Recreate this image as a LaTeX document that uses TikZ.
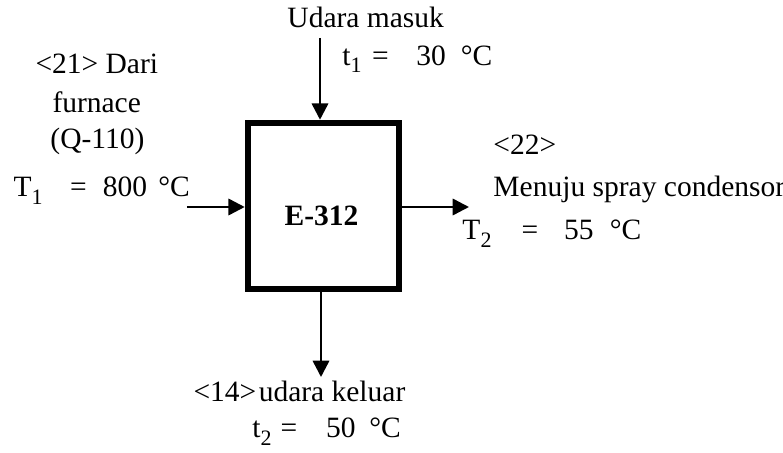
\documentclass[tikz,border=0pt]{standalone}
\usepackage{fontspec}
\setmainfont{Liberation Serif}
\usetikzlibrary{arrows.meta,positioning}
\newcommand{\sub}[1]{\raisebox{-3pt}{\fontsize{8.8pt}{10pt}\selectfont #1}}
\tikzset{
  unit/.style={draw=black,line width=2.6pt,minimum width=60.4pt,minimum height=66.4pt,
               inner sep=0pt},
  unitname/.style={anchor=base,inner sep=0pt,font=\fontsize{11.8pt}{14pt}\selectfont\bfseries},
  flow/.style={-{Triangle[length=6.5pt,width=6.5pt]},draw=black,line width=1pt},
  lbl/.style={anchor=base west,inner sep=0pt},
}
\begin{document}
\begin{tikzpicture}[x=0.4pt,y=-0.4pt,font=\fontsize{11.8pt}{14pt}\selectfont]
  \useasboundingbox (0,0) rectangle (783,453);
  % the unit
  \node[unit] (e312) at (323.5,206) {};
  \node[unitname] (e312Name) at (321.5,225) {E-312};
  % streams
  \coordinate (udaraIn) at (320,38);
  \coordinate (furnIn) at (187,207);
  \coordinate (condOut) at (469,207);
  \coordinate (udaraOut) at (321,377);
  \draw[flow] (udaraIn) -- (e312.north -| udaraIn);
  \draw[flow] (furnIn) -- (furnIn -| e312.west);
  \draw[flow] (e312.east |- condOut) -- (condOut);
  \draw[flow] (e312.south -| udaraOut) -- (udaraOut);
  % labels
  \node[lbl] (udaraInName) at (287,28) {Udara masuk};
  \node[lbl] (udaraInT) at (342,65)
    {t\sub{1}\hspace{4.2pt}=\hspace{11pt}30\hspace{6pt}°C};
  \node[lbl] (furnNo) at (35,73) {<21> Dari};
  \node[lbl] (furnName) at (52,112) {furnace};
  \node[lbl] (furnTag) at (50,148) {(Q-110)};
  \node[lbl] (furnT) at (13,197)
    {T\sub{1}\hspace{11pt}=\hspace{6.5pt}800\hspace{4.5pt}°C};
  \node[lbl] (condNo) at (493,155) {<22>};
  \node[lbl] (condName) at (493,197) {Menuju spray condensor};
  \node[lbl] (condT) at (462,240)
    {T\sub{2}\hspace{12pt}=\hspace{10.4pt}55\hspace{6.5pt}°C};
  \node[lbl] (udaraOutName) at (193,402) {<14>\hspace{1pt}udara keluar};
  \node[lbl] (udaraOutT) at (252,438)
    {t\sub{2}\hspace{3.6pt}=\hspace{11.5pt}50\hspace{5.5pt}°C};
\end{tikzpicture}
\end{document}
